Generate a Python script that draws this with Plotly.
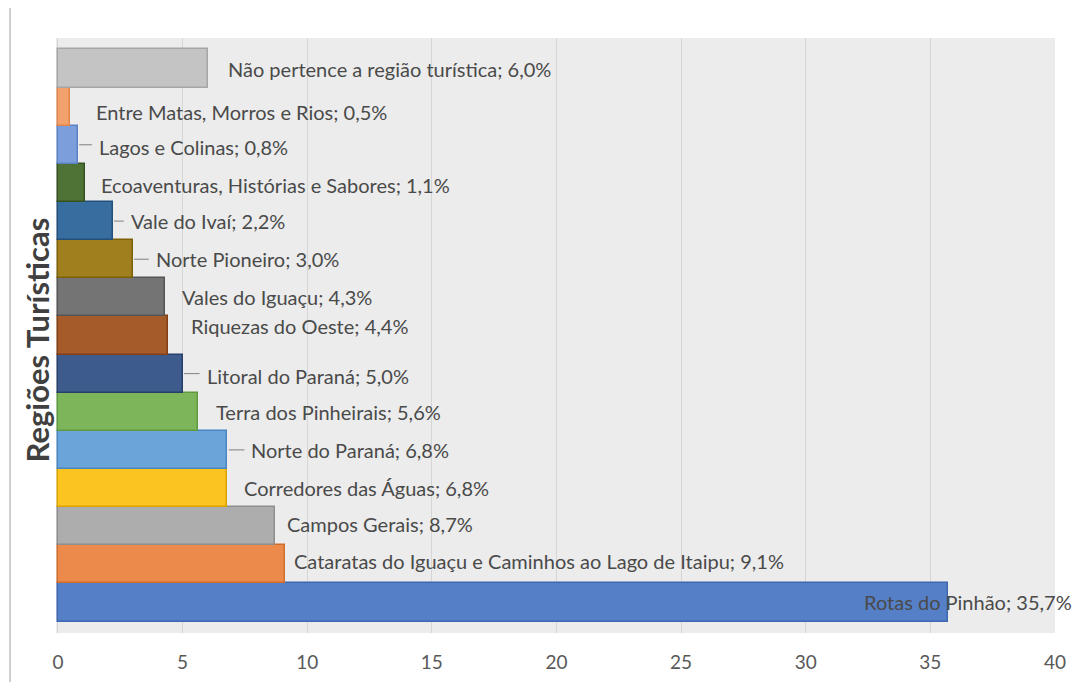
import plotly.graph_objects as go

# Data (bottom to top)
regions = [
    "Rotas do Pinhão",
    "Cataratas do Iguaçu e Caminhos ao Lago de Itaipu",
    "Campos Gerais",
    "Corredores das Águas",
    "Norte do Paraná",
    "Terra dos Pinheirais",
    "Litoral do Paraná",
    "Riquezas do Oeste",
    "Vales do Iguaçu",
    "Norte Pioneiro",
    "Vale do Ivaí",
    "Ecoaventuras, Histórias e Sabores",
    "Lagos e Colinas",
    "Entre Matas, Morros e Rios",
    "Não pertence a região turística",
]
values = [35.7, 9.1, 8.7, 6.8, 6.8, 5.6, 5.0, 4.4, 4.3, 3.0, 2.2, 1.1, 0.8, 0.5, 6.0]
tick_vals = [0, 5, 10, 15, 20, 25, 30, 35, 40]

# Styles
fills = ["#5580c8", "#ec8a4b", "#adadad", "#fcc421", "#6aa4d9", "#7db65a", "#3d5b8d",
         "#a65b2b", "#747474", "#a0801e", "#386e9f", "#4f7237", "#7c9fdc", "#f4a26d", "#c4c4c4"]
edges = ["#3f67b0", "#d26d2a", "#8e8e8e", "#d9a400", "#4a87c2", "#5f9a3e", "#26406b",
         "#843f15", "#555555", "#7d6108", "#234f7a", "#34521f", "#5c82c4", "#e08449", "#a6a6a6"]
# label offsets (x in axis units from bar end, y in category units), leader flag
lab_dx = [-3.46, 0.3, 0.4, 0.6, 0.88, 0.64, 0.88, 0.84, 0.58, 0.84, 0.64, 0.54, 0.76, 0.94, 0.75]
lab_dy = [0, 0.1, 0.05, 0, 0, 0, -0.05, 0.24, 0, 0, 0, -0.05, -0.06, -0.14, 0]
leader = [False, False, False, False, True, False, True, False, False, True, True, False, True, False, False]

ypos = list(range(len(regions)))

fig = go.Figure()
fig.add_trace(go.Bar(
    y=ypos, x=values, orientation="h",
    marker=dict(color=fills, line=dict(color=edges, width=1.5)),
    hovertext=regions, hoverinfo="text+x",
))

font_fam = "Lato, 'Open Sans', sans-serif"
for i, (r, v) in enumerate(zip(regions, values)):
    txt = f"{r}; {str(v).replace('.', ',')}%"
    fig.add_annotation(x=v + lab_dx[i], y=i + lab_dy[i], xref="x", yref="y",
                       text=txt, showarrow=False, xanchor="left", yanchor="middle",
                       font=dict(family=font_fam, size=20, color="#4a4a4a"))
    if leader[i]:
        fig.add_shape(type="line", xref="x", yref="y",
                      x0=v + 0.05, x1=v + lab_dx[i] - 0.2, y0=i, y1=i,
                      line=dict(color="#7f7f7f", width=1))

fig.add_annotation(x=0, y=0.5, xref="paper", yref="paper", xshift=-20, yshift=-5,
                   text="<b>Regiões Turísticas</b>", textangle=-90, showarrow=False,
                   xanchor="center", yanchor="middle",
                   font=dict(family=font_fam, size=31, color="#404040"))

# left chart border line
fig.add_shape(type="line", xref="paper", yref="paper", x0=-0.046, x1=-0.046, y0=-0.15, y1=1.1,
              line=dict(color="#bfbfbf", width=1.5))

fig.update_layout(
    width=1087, height=682,
    margin=dict(l=48, r=40, t=30, b=57),
    paper_bgcolor="white", plot_bgcolor="#ececec",
    bargap=0, showlegend=False,
    xaxis=dict(range=[-0.08, 40], tickvals=tick_vals, showgrid=True, gridcolor="#d6d6d6",
               gridwidth=1, zeroline=False, showline=False, ticks="",
               tickfont=dict(family=font_fam, size=19, color="#595959"),
               ticklabelstandoff=16),
    yaxis=dict(range=[-0.8, 14.8], showticklabels=False, showgrid=False, zeroline=False,
               showline=False, ticks=""),
)

fig.write_html("out.html")
